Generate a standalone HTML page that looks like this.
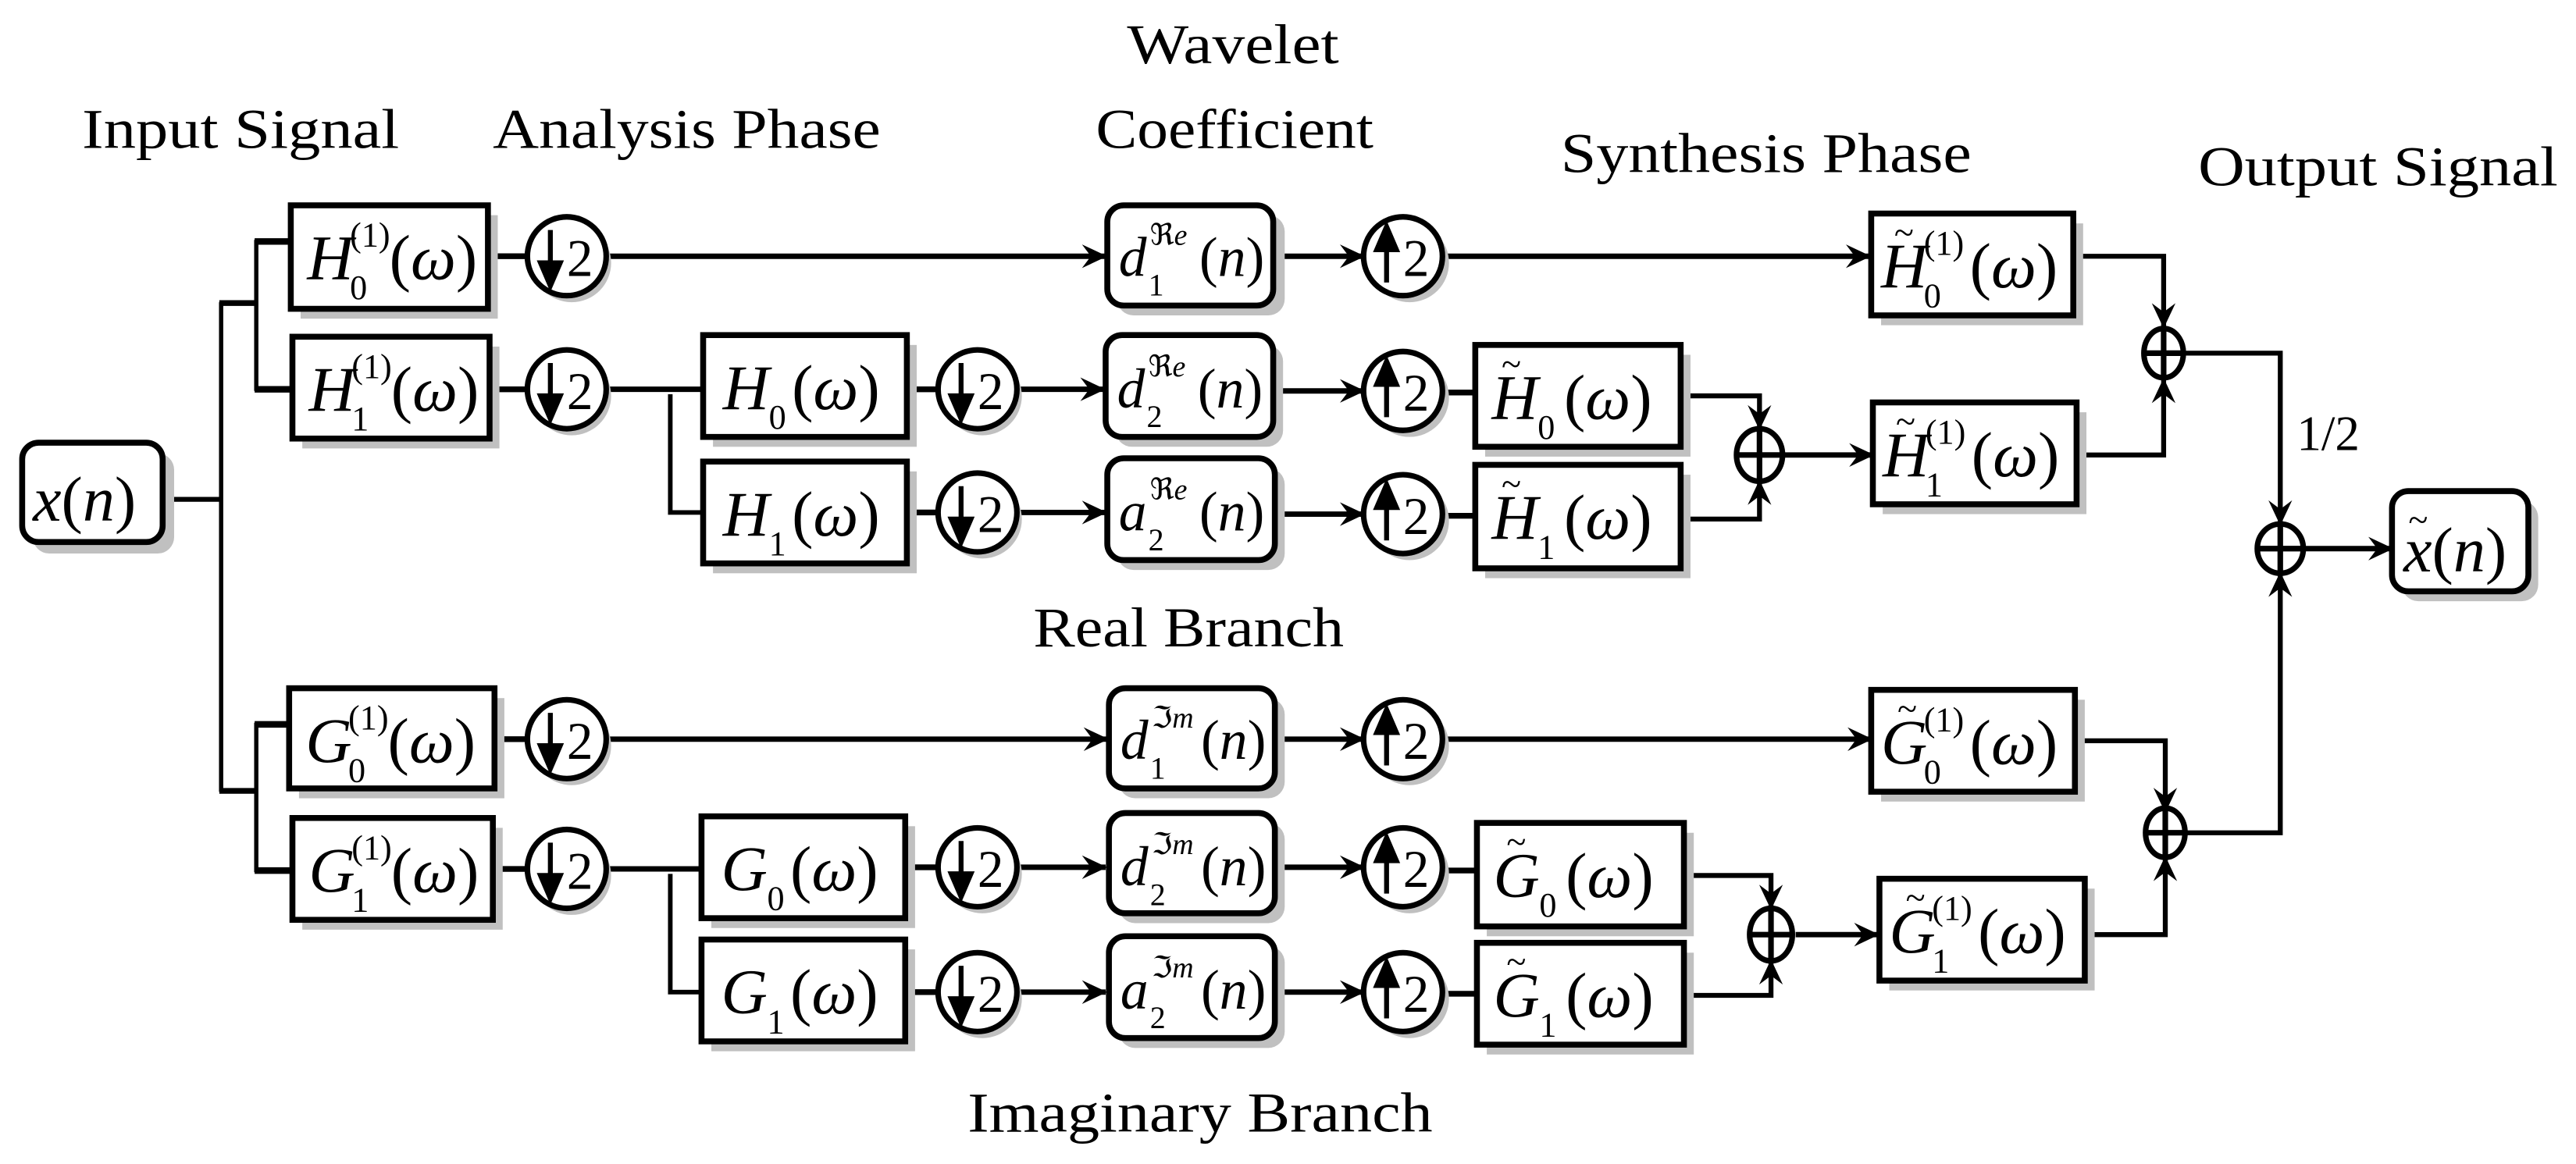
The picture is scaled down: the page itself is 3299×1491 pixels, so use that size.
<!DOCTYPE html>
<html><head><meta charset="utf-8"><style>
html,body{margin:0;padding:0;background:#fff;}
svg{display:block;}
text{font-family:"Liberation Serif","Times New Roman",serif;fill:#000;}
.it{font-style:italic;}
</style></head><body>
<svg width="3299" height="1491" viewBox="0 0 1568 708.65" xmlns="http://www.w3.org/2000/svg">
<defs>
<marker id="a" viewBox="-18 -10 20 20" refX="0" refY="0" markerWidth="18" markerHeight="20" markerUnits="userSpaceOnUse" orient="auto">
<path d="M1,0 L-16,-8 L-10,0 L-16,8 Z" fill="#000"/>
</marker>
</defs>

<!-- Titles -->
<text x="50" y="90" font-size="34" textLength="193" lengthAdjust="spacingAndGlyphs">Input Signal</text>
<text x="300" y="90" font-size="34" textLength="236" lengthAdjust="spacingAndGlyphs">Analysis Phase</text>
<text x="686" y="38.6" font-size="34" textLength="129" lengthAdjust="spacingAndGlyphs">Wavelet</text>
<text x="667" y="90" font-size="34" textLength="169" lengthAdjust="spacingAndGlyphs">Coefficient</text>
<text x="950" y="104.7" font-size="34" textLength="250" lengthAdjust="spacingAndGlyphs">Synthesis Phase</text>
<text x="1338" y="112.8" font-size="34" textLength="219" lengthAdjust="spacingAndGlyphs">Output Signal</text>
<text x="629" y="393.6" font-size="34" textLength="189" lengthAdjust="spacingAndGlyphs">Real Branch</text>
<text x="589" y="689" font-size="34" textLength="283" lengthAdjust="spacingAndGlyphs">Imaginary Branch</text>
<text x="1398" y="274" font-size="30">1/2</text>

<!-- connector lines -->
<g stroke="#000" fill="none" stroke-linecap="butt">
<line x1="99" y1="304" x2="134.6" y2="304" stroke-width="3"/>
<line x1="134.6" y1="184" x2="134.6" y2="482" stroke-width="2.6"/>
<line x1="133.5" y1="184.5" x2="156" y2="184.5" stroke-width="3.5"/>
<line x1="133.5" y1="481.5" x2="156" y2="481.5" stroke-width="3.5"/>
<line x1="156" y1="146" x2="156" y2="238" stroke-width="2.6"/>
<line x1="156" y1="440" x2="156" y2="531" stroke-width="2.6"/>
<line x1="155" y1="147" x2="177" y2="147" stroke-width="4"/>
<line x1="155" y1="237" x2="178" y2="237" stroke-width="4"/>
<line x1="155" y1="441" x2="176" y2="441" stroke-width="4"/>
<line x1="155" y1="530" x2="178" y2="530" stroke-width="4"/>

<line x1="297" y1="156" x2="321" y2="156" stroke-width="3.5"/>
<line x1="369" y1="156" x2="673" y2="156" stroke-width="3.3" marker-end="url(#a)"/>
<line x1="775" y1="156" x2="830" y2="156" stroke-width="3.3" marker-end="url(#a)"/>
<line x1="878" y1="156" x2="1138" y2="156" stroke-width="3.3" marker-end="url(#a)"/>
<polyline points="1262,156 1317,156 1317,199" stroke-width="3" marker-end="url(#a)"/>
<line x1="298" y1="237" x2="321" y2="237" stroke-width="3.5"/>
<line x1="369" y1="237" x2="428" y2="237" stroke-width="3.3"/>
<polyline points="408,240 408,312 428,312" stroke-width="2.8"/>
<line x1="552" y1="237" x2="571" y2="237" stroke-width="3.5"/>
<line x1="552" y1="312" x2="571" y2="312" stroke-width="3.5"/>
<line x1="619" y1="237" x2="672" y2="237" stroke-width="3.3" marker-end="url(#a)"/>
<line x1="619" y1="312" x2="673" y2="312" stroke-width="3.3" marker-end="url(#a)"/>
<line x1="775" y1="238" x2="830" y2="238" stroke-width="3.3" marker-end="url(#a)"/>
<line x1="775" y1="313" x2="830" y2="313" stroke-width="3.3" marker-end="url(#a)"/>
<line x1="878" y1="239" x2="898" y2="239" stroke-width="3.5"/>
<line x1="878" y1="314" x2="898" y2="314" stroke-width="3.5"/>
<polyline points="1023,241 1071,241 1071,261" stroke-width="3" marker-end="url(#a)"/>
<polyline points="1023,316 1071,316 1071,293" stroke-width="3" marker-end="url(#a)"/>
<line x1="1086" y1="277" x2="1140" y2="277" stroke-width="3.3" marker-end="url(#a)"/>
<polyline points="1264,277 1317,277 1317,231" stroke-width="3" marker-end="url(#a)"/>
<polyline points="1330,215 1388,215 1388,319" stroke-width="3" marker-end="url(#a)"/>
<line x1="1403" y1="334" x2="1456" y2="334" stroke-width="3.3" marker-end="url(#a)"/>
<polyline points="1331,507 1388,507 1388,349" stroke-width="3" marker-end="url(#a)"/>

<line x1="301" y1="450" x2="321" y2="450" stroke-width="3.5"/>
<line x1="369" y1="450" x2="674" y2="450" stroke-width="3.3" marker-end="url(#a)"/>
<line x1="775" y1="450" x2="830" y2="450" stroke-width="3.3" marker-end="url(#a)"/>
<line x1="878" y1="450" x2="1139" y2="450" stroke-width="3.3" marker-end="url(#a)"/>
<polyline points="1262,451 1318,451 1318,494" stroke-width="3" marker-end="url(#a)"/>
<line x1="300" y1="529" x2="321" y2="529" stroke-width="3.5"/>
<line x1="369" y1="529" x2="427" y2="529" stroke-width="3.3"/>
<polyline points="408,532 408,604 427,604" stroke-width="2.8"/>
<line x1="551" y1="528" x2="571" y2="528" stroke-width="3.5"/>
<line x1="551" y1="604" x2="571" y2="604" stroke-width="3.5"/>
<line x1="619" y1="528" x2="673" y2="528" stroke-width="3.3" marker-end="url(#a)"/>
<line x1="619" y1="604" x2="673" y2="604" stroke-width="3.3" marker-end="url(#a)"/>
<line x1="776" y1="528" x2="830" y2="528" stroke-width="3.3" marker-end="url(#a)"/>
<line x1="776" y1="604" x2="830" y2="604" stroke-width="3.3" marker-end="url(#a)"/>
<line x1="878" y1="530" x2="899" y2="530" stroke-width="3.5"/>
<line x1="878" y1="605" x2="899" y2="605" stroke-width="3.5"/>
<polyline points="1025,533 1078,533 1078,553" stroke-width="3" marker-end="url(#a)"/>
<polyline points="1025,606 1078,606 1078,585" stroke-width="3" marker-end="url(#a)"/>
<line x1="1093" y1="569" x2="1143" y2="569" stroke-width="3.3" marker-end="url(#a)"/>
<polyline points="1268,569 1318,569 1318,522" stroke-width="3" marker-end="url(#a)"/>
</g>

<!-- boxes -->
<g stroke="#000" stroke-width="3.6">
<g fill="#c0c0c0" stroke="none">
<rect x="20" y="276" width="86" height="61" rx="10"/>
<rect x="183" y="131" width="120" height="63"/>
<rect x="184" y="211" width="120" height="62"/>
<rect x="434" y="210" width="124" height="62"/>
<rect x="434" y="287" width="124" height="62"/>
<rect x="680" y="131" width="102" height="61" rx="10"/>
<rect x="679" y="210" width="102" height="62" rx="10"/>
<rect x="680" y="285" width="102" height="62" rx="10"/>
<rect x="904" y="216" width="125" height="62"/>
<rect x="904" y="289" width="125" height="63"/>
<rect x="1145" y="136" width="123" height="62"/>
<rect x="1146" y="251" width="124" height="62"/>
<rect x="1462" y="305" width="83" height="61" rx="10"/>
<rect x="182" y="425" width="125" height="61"/>
<rect x="184" y="504" width="122" height="62"/>
<rect x="433" y="503" width="124" height="62"/>
<rect x="433" y="578" width="124" height="62"/>
<rect x="681" y="425" width="101" height="61" rx="10"/>
<rect x="681" y="501" width="101" height="61" rx="10"/>
<rect x="681" y="576" width="101" height="62" rx="10"/>
<rect x="905" y="507" width="126" height="63"/>
<rect x="905" y="580" width="126" height="62"/>
<rect x="1145" y="426" width="124" height="62"/>
<rect x="1150" y="541" width="125" height="62"/>
</g>
<g fill="#fff">
<rect x="13.5" y="269.5" width="85.5" height="60.5" rx="10"/>
<rect x="177" y="125" width="120" height="63"/>
<rect x="178" y="205" width="120" height="62"/>
<rect x="428" y="204" width="124" height="62"/>
<rect x="428" y="281" width="124" height="62"/>
<rect x="674" y="125" width="101" height="61" rx="10"/>
<rect x="673" y="204" width="102" height="62" rx="10"/>
<rect x="674" y="279" width="102" height="62" rx="10"/>
<rect x="898" y="210" width="125" height="62"/>
<rect x="898" y="283" width="125" height="63"/>
<rect x="1139" y="130" width="123" height="62"/>
<rect x="1140" y="245" width="124" height="62"/>
<rect x="1456" y="299" width="83" height="61" rx="10"/>
<rect x="176" y="419" width="125" height="61"/>
<rect x="178" y="498" width="122" height="62"/>
<rect x="427" y="497" width="124" height="62"/>
<rect x="427" y="572" width="124" height="62"/>
<rect x="675" y="419" width="101" height="61" rx="10"/>
<rect x="675" y="495" width="101" height="61" rx="10"/>
<rect x="675" y="570" width="101" height="62" rx="10"/>
<rect x="899" y="501" width="126" height="63"/>
<rect x="899" y="574" width="126" height="62"/>
<rect x="1139" y="420" width="124" height="62"/>
<rect x="1144" y="535" width="125" height="62"/>
</g>
</g>

<!-- circles -->
<g stroke="#000" stroke-width="3.4">
<g fill="#c0c0c0" stroke="none">
<circle cx="348" cy="160" r="24"/><circle cx="348" cy="241" r="24"/>
<circle cx="598" cy="241" r="24"/><circle cx="598" cy="316" r="24"/>
<circle cx="858" cy="160" r="24"/><circle cx="858" cy="242" r="24"/><circle cx="858" cy="317" r="24"/>
<circle cx="348" cy="454" r="24"/><circle cx="348" cy="533" r="24"/>
<circle cx="598" cy="532" r="24"/><circle cx="598" cy="608" r="24"/>
<circle cx="858" cy="454" r="24"/><circle cx="858" cy="532" r="24"/><circle cx="858" cy="608" r="24"/>
</g>
<g fill="#fff">
<circle cx="345" cy="156" r="24"/><circle cx="345" cy="237" r="24"/>
<circle cx="595" cy="237" r="24"/><circle cx="595" cy="312" r="24"/>
<circle cx="854" cy="156" r="24"/><circle cx="854" cy="238" r="24"/><circle cx="854" cy="313" r="24"/>
<circle cx="345" cy="450" r="24"/><circle cx="345" cy="529" r="24"/>
<circle cx="595" cy="528" r="24"/><circle cx="595" cy="604" r="24"/>
<circle cx="854" cy="450" r="24"/><circle cx="854" cy="528" r="24"/><circle cx="854" cy="604" r="24"/>
</g>
</g>
<g stroke="#000" stroke-width="3" fill="#000">
<path d="M335,140 V166" /><path d="M329,160 L335,174 L341,160 Z"/>
<path d="M335,221 V247" /><path d="M329,241 L335,255 L341,241 Z"/>
<path d="M585,221 V247" /><path d="M579,241 L585,255 L591,241 Z"/>
<path d="M585,296 V322" /><path d="M579,316 L585,330 L591,316 Z"/>
<path d="M335,434 V460" /><path d="M329,454 L335,468 L341,454 Z"/>
<path d="M335,513 V539" /><path d="M329,533 L335,547 L341,533 Z"/>
<path d="M585,512 V538" /><path d="M579,532 L585,546 L591,532 Z"/>
<path d="M585,588 V614" /><path d="M579,608 L585,622 L591,608 Z"/>
<path d="M844,172 V146" /><path d="M838,152 L844,138 L850,152 Z"/>
<path d="M844,254 V228" /><path d="M838,234 L844,220 L850,234 Z"/>
<path d="M844,329 V303" /><path d="M838,309 L844,295 L850,309 Z"/>
<path d="M844,466 V440" /><path d="M838,446 L844,432 L850,446 Z"/>
<path d="M844,544 V518" /><path d="M838,524 L844,510 L850,524 Z"/>
<path d="M844,620 V594" /><path d="M838,600 L844,586 L850,600 Z"/>
</g>
<g font-size="32">
<text x="345" y="168">2</text><text x="345" y="249">2</text>
<text x="595" y="249">2</text><text x="595" y="324">2</text>
<text x="345" y="462">2</text><text x="345" y="541">2</text>
<text x="595" y="540">2</text><text x="595" y="616">2</text>
<text x="854" y="168">2</text><text x="854" y="250">2</text><text x="854" y="325">2</text>
<text x="854" y="462">2</text><text x="854" y="540">2</text><text x="854" y="616">2</text>
</g>

<!-- adders -->
<g stroke="#000" stroke-width="3.4" fill="#fff">
<ellipse cx="1317" cy="215" rx="12" ry="15"/>
<ellipse cx="1071" cy="277" rx="14" ry="16"/>
<ellipse cx="1388" cy="334" rx="14" ry="15"/>
<ellipse cx="1318" cy="507" rx="12" ry="15"/>
<ellipse cx="1078" cy="569" rx="13" ry="16"/>
</g>
<g stroke="#000" stroke-width="3.4">
<path d="M1305,215 H1329 M1317,200 V230"/>
<path d="M1057,277 H1085 M1071,261 V293"/>
<path d="M1374,334 H1402 M1388,319 V349"/>
<path d="M1306,507 H1330 M1318,492 V522"/>
<path d="M1065,569 H1091 M1078,553 V585"/>
</g>

<!-- labels -->
<g font-size="39">
<text x="20" y="317"><tspan class="it">x</tspan>(<tspan class="it">n</tspan>)</text>
<text x="1463" y="348"><tspan class="it">x</tspan>(<tspan class="it">n</tspan>)</text>
<text x="1466" y="324" font-size="22">~</text>

<g transform="translate(177,156)"><text x="10" y="14" class="it">H</text><text x="36" y="26" font-size="21">0</text><text x="36" y="-6" font-size="21">(1)</text><text x="60" y="14">(<tspan class="it">ω</tspan>)</text></g>
<g transform="translate(178,236)"><text x="10" y="14" class="it">H</text><text x="36" y="26" font-size="21">1</text><text x="36" y="-6" font-size="21">(1)</text><text x="60" y="14">(<tspan class="it">ω</tspan>)</text></g>
<g transform="translate(428,235)"><text x="12" y="14" class="it">H</text><text x="40" y="26" font-size="21">0</text><text x="54" y="14">(<tspan class="it">ω</tspan>)</text></g>
<g transform="translate(428,312)"><text x="12" y="14" class="it">H</text><text x="40" y="26" font-size="21">1</text><text x="54" y="14">(<tspan class="it">ω</tspan>)</text></g>

<g transform="translate(1139,161)"><text x="6" y="14" class="it">H</text><text x="14" y="-12" font-size="22">~</text><text x="32" y="26" font-size="21">0</text><text x="32" y="-6" font-size="21">(1)</text><text x="60" y="14">(<tspan class="it">ω</tspan>)</text></g>
<g transform="translate(1140,276)"><text x="6" y="14" class="it">H</text><text x="14" y="-12" font-size="22">~</text><text x="32" y="26" font-size="21">1</text><text x="32" y="-6" font-size="21">(1)</text><text x="60" y="14">(<tspan class="it">ω</tspan>)</text></g>
<g transform="translate(898,241)"><text x="10" y="14" class="it">H</text><text x="16" y="-12" font-size="22">~</text><text x="38" y="26" font-size="21">0</text><text x="54" y="14">(<tspan class="it">ω</tspan>)</text></g>
<g transform="translate(898,314)"><text x="10" y="14" class="it">H</text><text x="16" y="-12" font-size="22">~</text><text x="38" y="26" font-size="21">1</text><text x="54" y="14">(<tspan class="it">ω</tspan>)</text></g>

<g transform="translate(176,450)"><text x="10" y="14" class="it">G</text><text x="36" y="26" font-size="21">0</text><text x="36" y="-6" font-size="21">(1)</text><text x="60" y="14">(<tspan class="it">ω</tspan>)</text></g>
<g transform="translate(178,529)"><text x="10" y="14" class="it">G</text><text x="36" y="26" font-size="21">1</text><text x="36" y="-6" font-size="21">(1)</text><text x="60" y="14">(<tspan class="it">ω</tspan>)</text></g>
<g transform="translate(427,528)"><text x="12" y="14" class="it">G</text><text x="40" y="26" font-size="21">0</text><text x="54" y="14">(<tspan class="it">ω</tspan>)</text></g>
<g transform="translate(427,603)"><text x="12" y="14" class="it">G</text><text x="40" y="26" font-size="21">1</text><text x="54" y="14">(<tspan class="it">ω</tspan>)</text></g>

<g transform="translate(1139,451)"><text x="6" y="14" class="it">G</text><text x="16" y="-12" font-size="22">~</text><text x="32" y="26" font-size="21">0</text><text x="32" y="-6" font-size="21">(1)</text><text x="60" y="14">(<tspan class="it">ω</tspan>)</text></g>
<g transform="translate(1144,566)"><text x="6" y="14" class="it">G</text><text x="16" y="-12" font-size="22">~</text><text x="32" y="26" font-size="21">1</text><text x="32" y="-6" font-size="21">(1)</text><text x="60" y="14">(<tspan class="it">ω</tspan>)</text></g>
<g transform="translate(899,532)"><text x="10" y="14" class="it">G</text><text x="18" y="-12" font-size="22">~</text><text x="38" y="26" font-size="21">0</text><text x="54" y="14">(<tspan class="it">ω</tspan>)</text></g>
<g transform="translate(899,605)"><text x="10" y="14" class="it">G</text><text x="18" y="-12" font-size="22">~</text><text x="38" y="26" font-size="21">1</text><text x="54" y="14">(<tspan class="it">ω</tspan>)</text></g>
</g>

<g font-size="34">
<g transform="translate(674,155)"><text x="7" y="13" class="it">d</text><text x="25" y="25" font-size="19">1</text><text x="26" y="-6" font-size="18">ℜ<tspan class="it">e</tspan></text><text x="56" y="13">(<tspan class="it">n</tspan>)</text></g>
<g transform="translate(673,235)"><text x="7" y="13" class="it">d</text><text x="25" y="25" font-size="19">2</text><text x="26" y="-6" font-size="18">ℜ<tspan class="it">e</tspan></text><text x="56" y="13">(<tspan class="it">n</tspan>)</text></g>
<g transform="translate(674,310)"><text x="7" y="13" class="it">a</text><text x="25" y="25" font-size="19">2</text><text x="26" y="-6" font-size="18">ℜ<tspan class="it">e</tspan></text><text x="56" y="13">(<tspan class="it">n</tspan>)</text></g>
<g transform="translate(675,449)"><text x="7" y="13" class="it">d</text><text x="25" y="25" font-size="19">1</text><text x="26" y="-6" font-size="18">ℑ<tspan class="it">m</tspan></text><text x="56" y="13">(<tspan class="it">n</tspan>)</text></g>
<g transform="translate(675,526)"><text x="7" y="13" class="it">d</text><text x="25" y="25" font-size="19">2</text><text x="26" y="-6" font-size="18">ℑ<tspan class="it">m</tspan></text><text x="56" y="13">(<tspan class="it">n</tspan>)</text></g>
<g transform="translate(675,601)"><text x="7" y="13" class="it">a</text><text x="25" y="25" font-size="19">2</text><text x="26" y="-6" font-size="18">ℑ<tspan class="it">m</tspan></text><text x="56" y="13">(<tspan class="it">n</tspan>)</text></g>
</g>
</svg>
</body></html>
